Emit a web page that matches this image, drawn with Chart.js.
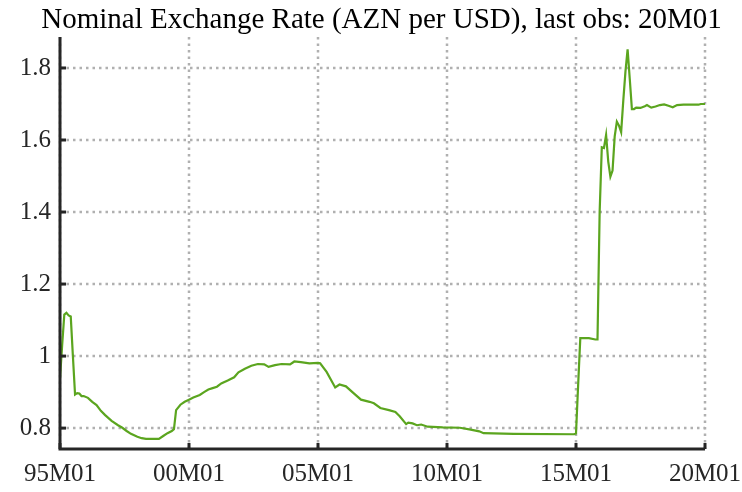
<!DOCTYPE html>
<html>
<head>
<meta charset="utf-8">
<script src="https://cdn.jsdelivr.net/npm/chart.js@4.4.1/dist/chart.umd.min.js"></script>
<style>
  html, body { margin: 0; padding: 0; background: #ffffff; }
  #wrap { width: 742px; height: 492px; }
</style>
</head>
<body>
<div id="wrap"><canvas id="c" width="742" height="492"></canvas></div>
<script>
// Month index counted from 95M01 (0) to 20M01 (300)
const obsMonth = [0,1,2,3,4,5,6,7,8,9,10,11,13,15,17,19,21,24,27,29,31,33,36,38,40,43,46,48,50,52,53,54,56,58,60,62,65,67,69,71,73,75,78,81,83,86,89,92,95,97,100,103,107,109,112,116,120,121,124,128,130,133,136,140,144,146,149,153,156,158,161,162,164,166,168,171,178,186,191,195,197,211,239,240,241,242,246,249,250,251,252,253,254,255,256,257,258,259,260,261,262,263,264,265,266,267,268,270,272,273,275,277,279,281,283,285,287,290,295,297,298,300];
// AZN per USD
const rateAZN = [0.938,1.03,1.115,1.12,1.113,1.110,1.00,0.893,0.897,0.896,0.889,0.889,0.884,0.873,0.864,0.848,0.836,0.820,0.808,0.801,0.792,0.784,0.776,0.772,0.770,0.770,0.770,0.778,0.786,0.792,0.797,0.850,0.865,0.873,0.879,0.885,0.892,0.900,0.907,0.911,0.915,0.924,0.932,0.941,0.955,0.965,0.973,0.978,0.977,0.970,0.975,0.978,0.977,0.985,0.983,0.980,0.981,0.980,0.956,0.913,0.921,0.916,0.900,0.879,0.873,0.869,0.856,0.850,0.845,0.833,0.811,0.815,0.813,0.808,0.810,0.804,0.802,0.801,0.796,0.791,0.786,0.784,0.783,0.785,0.92,1.050,1.050,1.046,1.046,1.40,1.58,1.578,1.614,1.54,1.498,1.515,1.61,1.651,1.64,1.622,1.71,1.79,1.852,1.77,1.686,1.686,1.690,1.689,1.694,1.697,1.690,1.693,1.697,1.699,1.695,1.691,1.697,1.698,1.698,1.698,1.700,1.700];

const xTickMonths = [0,60,120,180,240,300];
const xTickLabels = ['95M01','00M01','05M01','10M01','15M01','20M01'];
const yTickValues = [0.8,1.0,1.2,1.4,1.6,1.8];
const yTickLabels = ['0.8','1','1.2','1.4','1.6','1.8'];
const titleText = 'Nominal Exchange Rate (AZN per USD), last obs: 20M01';

const points = obsMonth.map((m, i) => ({ x: m, y: rateAZN[i] }));

const FONT = "'Liberation Serif', 'Times New Roman', serif";
const AXIS_COLOR = '#262626';

const framePlugin = {
  id: 'frame',
  beforeDatasetsDraw(chart) {
    const { ctx, chartArea: { left, right, top, bottom }, scales: { x, y } } = chart;
    ctx.save();
    ctx.strokeStyle = '#b0b0b0';
    ctx.lineWidth = 2.5;
    ctx.setLineDash([2.5, 4]);
    x.ticks.forEach(t => {
      const px = x.getPixelForValue(t.value);
      ctx.beginPath(); ctx.moveTo(px, top); ctx.lineTo(px, bottom); ctx.stroke();
    });
    y.ticks.forEach(t => {
      const py = y.getPixelForValue(t.value);
      ctx.beginPath(); ctx.moveTo(left, py); ctx.lineTo(right, py); ctx.stroke();
    });
    ctx.restore();
  },
  afterDatasetsDraw(chart) {
    const { ctx, chartArea: { left, right, top, bottom }, scales: { x, y } } = chart;
    ctx.save();
    ctx.setLineDash([]);
    ctx.strokeStyle = AXIS_COLOR;
    ctx.lineWidth = 3;
    ctx.beginPath();
    ctx.moveTo(left, top);
    ctx.lineTo(left, bottom);
    ctx.lineTo(right, bottom);
    ctx.stroke();
    x.ticks.forEach(t => {
      const px = x.getPixelForValue(t.value);
      ctx.beginPath(); ctx.moveTo(px, bottom); ctx.lineTo(px, bottom - 6); ctx.stroke();
    });
    y.ticks.forEach(t => {
      const py = y.getPixelForValue(t.value);
      ctx.beginPath(); ctx.moveTo(left, py); ctx.lineTo(left + 6, py); ctx.stroke();
    });
    // Title centred over the axes (drawn at natural width, not squeezed)
    ctx.fillStyle = '#000000';
    ctx.font = "29px " + FONT;
    ctx.textAlign = 'center';
    ctx.textBaseline = 'alphabetic';
    ctx.fillText(titleText, (left + right) / 2 - 1, 28);
    ctx.restore();
  }
};

new Chart(document.getElementById('c'), {
  type: 'line',
  data: {
    datasets: [{
      data: points,
      borderColor: '#5ba51f',
      borderWidth: 2.2,
      pointRadius: 0,
      tension: 0,
      fill: false
    }]
  },
  options: {
    responsive: false,
    animation: false,
    events: [],
    layout: { padding: { left: 0, right: 37, top: 37, bottom: 0 } },
    plugins: {
      legend: { display: false },
      tooltip: { enabled: false },
      title: { display: false }
    },
    scales: {
      x: {
        type: 'linear',
        min: 0,
        max: 300,
        afterBuildTicks: s => { s.ticks = xTickMonths.map(v => ({ value: v })); },
        afterFit: s => { s.height = 43; s.paddingLeft = 0; s.paddingRight = 0; },
        grid: { display: false, drawTicks: false },
        border: { display: false },
        ticks: {
          autoSkip: false,
          maxRotation: 0,
          padding: 10,
          color: AXIS_COLOR,
          font: { family: FONT, size: 25 },
          callback: v => xTickLabels[xTickMonths.indexOf(v)]
        }
      },
      y: {
        type: 'linear',
        min: 0.742,
        max: 1.886,
        afterBuildTicks: s => { s.ticks = yTickValues.map(v => ({ value: v })); },
        afterFit: s => { s.width = 60; s.paddingTop = 0; s.paddingBottom = 0; },
        grid: { display: false, drawTicks: false },
        border: { display: false },
        ticks: {
          padding: 9,
          color: AXIS_COLOR,
          font: { family: FONT, size: 25 },
          callback: v => yTickLabels[yTickValues.findIndex(t => Math.abs(t - v) < 1e-9)]
        }
      }
    }
  },
  plugins: [framePlugin]
});
</script>
</body>
</html>
